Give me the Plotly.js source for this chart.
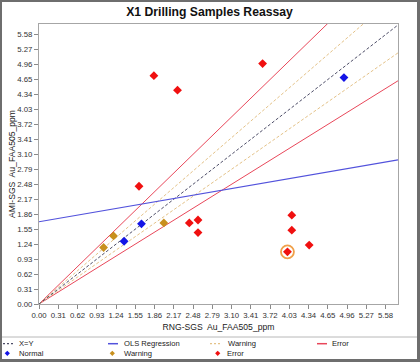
<!DOCTYPE html>
<html>
<head>
<meta charset="utf-8">
<script src="https://cdn.plot.ly/plotly-3.0.1.min.js"></script>
<style>
html,body{margin:0;padding:0;background:#fff;}
#wrap{width:415px;height:357px;border-style:solid;border-color:#6e6e6e;border-width:2px 3px 3px 2px;background:#fff;}
#chart{width:415px;height:357px;}
</style>
</head>
<body>
<div id="wrap"><div id="chart"></div></div>
<script>
// ---- data ----
const normalX = [4.91, 1.65, 1.37];
const normalY = [4.69, 1.66, 1.30];
const warningX = [1.20, 1.04, 2.01];
const warningY = [1.41, 1.17, 1.68];
const errorX = [1.85, 2.23, 3.60, 1.61, 2.42, 2.56, 2.56, 4.07, 4.07, 4.35, 4.00];
const errorY = [4.73, 4.43, 4.98, 2.44, 1.68, 1.74, 1.48, 1.84, 1.53, 1.22, 1.08];
const highlightX = [4.00];
const highlightY = [1.08];
const tickValues = [0.00,0.31,0.62,0.93,1.24,1.55,1.86,2.17,2.48,2.79,3.10,3.41,3.72,4.03,4.34,4.65,4.96,5.27,5.58];
const warningPct = 0.10;
const errorPct = 0.20;
const xMax = 5.78, yMax = 5.80;
const legendRow1 = ["X=Y", "OLS Regression", "Warning", "Error"];
const legendRow2 = ["Normal", "Warning", "Error"];

// ---- OLS from all points ----
const allX = normalX.concat(warningX, errorX);
const allY = normalY.concat(warningY, errorY);
const n = allX.length;
const mx = allX.reduce((a,b)=>a+b,0)/n;
const my = allY.reduce((a,b)=>a+b,0)/n;
let sxy = 0, sxx = 0;
for (let i=0;i<n;i++){ sxy += (allX[i]-mx)*(allY[i]-my); sxx += (allX[i]-mx)*(allX[i]-mx); }
const olsSlope = sxy/sxx;
const olsIntercept = my - olsSlope*mx;

const lineX = [0, xMax];
function ref(slope){ return lineX.map(v => v*slope); }

const C = {
  xy: '#4e4e68', ols: '#5252dc', warnLine: '#e4c288', errLine: '#e8475a',
  normal: '#1414e6', warning: '#c8901e', error: '#f01010', ring: '#f0a04a'
};

const traces = [
  {x: lineX, y: ref(1/(1-errorPct)), mode:'lines', line:{color:C.errLine, width:1}, name:'Error', hoverinfo:'skip'},
  {x: lineX, y: ref(1-errorPct), mode:'lines', line:{color:C.errLine, width:1}, name:'Error', hoverinfo:'skip'},
  {x: lineX, y: ref(1/(1-warningPct)), mode:'lines', line:{color:C.warnLine, width:1, dash:'3px,2px'}, name:'Warning', hoverinfo:'skip'},
  {x: lineX, y: ref(1-warningPct), mode:'lines', line:{color:C.warnLine, width:1, dash:'3px,2px'}, name:'Warning', hoverinfo:'skip'},
  {x: lineX, y: ref(1), mode:'lines', line:{color:C.xy, width:1, dash:'3px,2px'}, name:'X=Y'},
  {x: lineX, y: lineX.map(v => olsIntercept + olsSlope*v), mode:'lines', line:{color:C.ols, width:1.2}, name:'OLS Regression'},
  {x: highlightX, y: highlightY, mode:'markers', marker:{symbol:'circle-open', size:13, color:C.ring, line:{width:1.8, color:C.ring}}, name:'Selected'},
  {x: normalX, y: normalY, mode:'markers', marker:{symbol:'diamond', size:6.8, color:C.normal}, name:'Normal'},
  {x: warningX, y: warningY, mode:'markers', marker:{symbol:'diamond', size:6.8, color:C.warning}, name:'Warning'},
  {x: errorX, y: errorY, mode:'markers', marker:{symbol:'diamond', size:6.8, color:C.error}, name:'Error'}
];

// page pixel -> paper coords (plot area spans page x 39..398, y 24..304)
const PL = 39, PR = 398, PT = 24, PB = 304;
const px = v => (v - PL)/(PR - PL);
const py = v => (PB - v)/(PB - PT);

const shapes = [
  {type:'line', xref:'paper', yref:'paper', x0:px(2), x1:px(417), y0:py(337), y1:py(337), line:{color:'#b8b8b8', width:1}}
];
const annotations = [];
const txtFont = {family:'Liberation Sans, Arial, sans-serif', size:7.6, color:'#222'};

// legend row 1 (line samples)
const r1y = 343.7;
const r1Lines = [
  {x0:3, x1:14, color:C.xy, dash:'2px,2px', w:1.2},
  {x0:108, x1:118, color:C.ols, dash:'solid', w:1.5},
  {x0:210, x1:222, color:C.warnLine, dash:'2px,2px', w:1.2},
  {x0:317, x1:327, color:C.errLine, dash:'solid', w:1.5}
];
const r1Text = [17.3, 121.7, 226, 330];
legendRow1.forEach((label,i)=>{
  const l = r1Lines[i];
  shapes.push({type:'line', xref:'paper', yref:'paper', x0:px(l.x0), x1:px(l.x1), y0:py(r1y), y1:py(r1y), line:{color:l.color, width:l.w, dash:l.dash}});
  annotations.push({xref:'paper', yref:'paper', x:px(r1Text[i]), y:py(r1y), text:label, showarrow:false, xanchor:'left', yanchor:'middle', font:txtFont});
});
// legend row 2 (marker samples)
const r2y = 353.3;
const r2Marks = [{x:7.3, c:C.normal}, {x:112.3, c:C.warning}, {x:217.7, c:C.error}];
const r2Text = [17.3, 121.7, 224.5];
legendRow2.forEach((label,i)=>{
  const m = r2Marks[i];
  shapes.push({type:'path', xref:'paper', yref:'paper', xsizemode:'pixel', ysizemode:'pixel', xanchor:px(m.x), yanchor:py(r2y),
    path:'M -2.6 0 L 0 -2.6 L 2.6 0 L 0 2.6 Z', fillcolor:m.c, line:{width:0}});
  annotations.push({xref:'paper', yref:'paper', x:px(r2Text[i]), y:py(r2y), text:label, showarrow:false, xanchor:'left', yanchor:'middle', font:txtFont});
});

const axisCommon = {
  showgrid:false, zeroline:false, showline:true, mirror:true, linecolor:'#a6a6a6', linewidth:1,
  ticks:'outside', ticklen:4, tickcolor:'#8a8a8a', tickwidth:1,
  tickvals: tickValues, tickformat:'.2f',
  tickfont:{family:'Liberation Sans, Arial, sans-serif', size:7.8, color:'#333'}
};

const layout = {
  width:415, height:357,
  margin:{l:PL-2, r:415-(PR-2), t:PT-2, b:357-(PB-2), pad:0},
  paper_bgcolor:'#fff', plot_bgcolor:'#fff',
  showlegend:false,
  title:{text:'<b>X1 Drilling Samples Reassay</b>', x:0.5, xref:'container', xanchor:'center', y:1-10/357, yref:'container', yanchor:'middle',
    font:{family:'Liberation Sans, Arial, sans-serif', size:12.2, color:'#111'}},
  xaxis: Object.assign({}, axisCommon, {range:[0, xMax],
    title:{text:'RNG-SGS\u00a0 Au_FAA505_ppm', standoff:4, font:{family:'Liberation Sans, Arial, sans-serif', size:8.6, color:'#222'}}}),
  yaxis: Object.assign({}, axisCommon, {range:[0, yMax],
    title:{text:'AMI-SGS\u00a0 Au_FAA505_ppm', standoff:0, font:{family:'Liberation Sans, Arial, sans-serif', size:8.6, color:'#222'}}}),
  shapes: shapes,
  annotations: annotations
};

Plotly.newPlot('chart', traces, layout, {displayModeBar:false, staticPlot:true});
</script>
</body>
</html>
